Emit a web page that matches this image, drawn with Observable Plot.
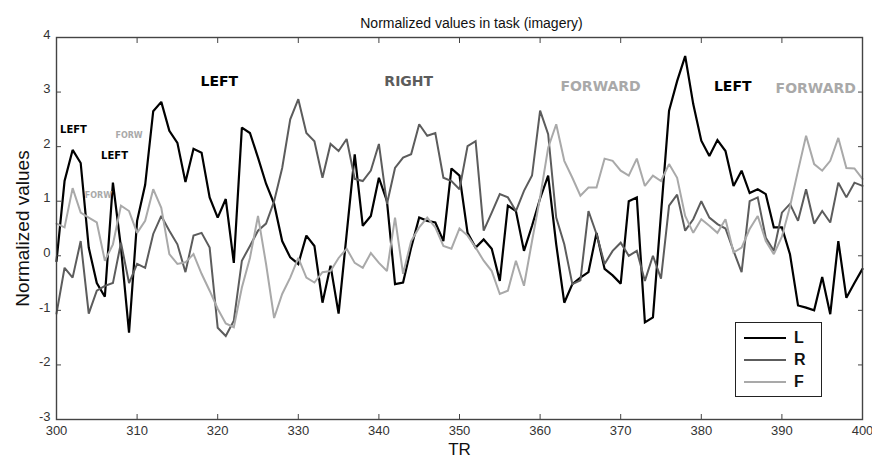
<!DOCTYPE html>
<html>
<head>
<meta charset="utf-8">
<script src="https://cdn.jsdelivr.net/npm/d3@7"></script>
<script src="https://cdn.jsdelivr.net/npm/@observablehq/plot@0.6"></script>
<style>
  html, body { margin: 0; padding: 0; background: #fff; }
  #wrap { position: relative; width: 872px; height: 459px; font-family: "Liberation Sans", Arial, sans-serif; }
  #legend { position: absolute; left: 735px; top: 322px; width: 87px; height: 75px; border: 1.3px solid #222; background: #fff; box-sizing: border-box; }
  .item { position: absolute; left: 8px; height: 20px; display: flex; align-items: center; }
  .item span { font: bold 16px "Liberation Sans", Arial, sans-serif; margin-left: 8px; color: #111; }
  .item i { display: inline-block; width: 42px; height: 0; border-top-style: solid; }
</style>
</head>
<body>
<div id="wrap"></div>
<script>
// ---- data ----
const trValues = d3.range(300, 401);
const seriesNames = ["L", "R", "F"];
const L = [-0.1, 1.37, 1.94, 1.7, 0.15, -0.5, -0.75, 1.34, 0.15, -1.41, 0.64, 1.3, 2.65, 2.82, 2.29, 2.07, 1.35, 1.96, 1.89, 1.07, 0.70, 1.04, -0.13, 2.35, 2.25, 1.8, 1.32, 0.95, 0.27, -0.03, -0.15, 0.37, 0.18, -0.86, -0.18, -1.06, 0.40, 1.86, 0.55, 0.73, 1.43, 1.0, -0.52, -0.49, 0.15, 0.70, 0.64, 0.61, 0.27, 1.6, 1.47, 0.42, 0.15, 0.3, 0.13, -0.46, 0.92, 0.82, 0.09, 0.55, 1.05, 1.47, 0.21, -0.86, -0.52, -0.40, -0.3, 0.42, -0.24, -0.36, -0.51, 1.0, 1.07, -1.22, -1.13, 0.77, 2.66, 3.2, 3.66, 2.78, 2.11, 1.83, 2.12, 1.92, 1.28, 1.56, 1.15, 1.22, 1.13, 0.52, 0.52, 0.03, -0.91, -0.95, -1.0, -0.39, -1.07, 0.27, -0.77, -0.5, -0.24];
const R = [-1.06, -0.22, -0.4, 0.27, -1.06, -0.64, -0.55, -0.5, 0.24, -0.5, -0.15, -0.22, 0.4, 0.73, 0.46, 0.21, -0.3, 0.37, 0.42, 0.15, -1.32, -1.47, -1.19, -0.09, 0.18, 0.46, 0.59, 1.0, 1.61, 2.5, 2.87, 2.25, 2.1, 1.43, 2.05, 1.92, 2.14, 1.41, 1.37, 1.56, 2.05, 0.95, 1.61, 1.8, 1.86, 2.41, 2.2, 2.25, 1.43, 1.37, 1.22, 2.01, 2.1, 0.46, 0.79, 1.13, 1.07, 0.82, 1.19, 1.47, 2.66, 2.23, 0.70, 0.21, -0.52, -0.45, 0.82, 0.40, -0.15, 0.09, 0.24, 0, 0.09, -0.46, 0, -0.42, 0.92, 1.12, 0.46, 0.67, 1.0, 0.7, 0.58, 0.5, 0.09, -0.3, 1.0, 1.07, 0.33, 0.09, 0.79, 0.95, 0.64, 1.22, 0.59, 0.82, 0.61, 1.34, 1.07, 1.34, 1.28];
const F = [0.59, 0.52, 1.24, 0.79, 0.7, 0.61, -0.09, 0.21, 0.92, 0.82, 0.42, 0.64, 1.22, 0.88, 0.03, -0.15, -0.12, 0.03, -0.33, -0.64, -0.97, -1.24, -1.31, -0.58, -0.04, 0.73, -0.15, -1.14, -0.7, -0.4, -0.04, -0.4, -0.49, -0.3, -0.28, -0.04, 0.13, -0.13, -0.22, 0.05, -0.13, -0.28, 0.70, -0.33, 0.27, 0.52, 0.70, 0.52, 0.18, 0.13, 0.5, 0.37, 0.15, -0.09, -0.28, -0.7, -0.64, -0.09, -0.55, 0.27, 1.07, 1.98, 2.41, 1.74, 1.43, 1.1, 1.25, 1.25, 1.78, 1.74, 1.56, 1.47, 1.78, 1.28, 1.47, 1.37, 1.68, 1.43, 0.73, 0.42, 0.67, 0.55, 0.42, 0.67, 0.06, 0.15, 0.49, 0.73, 0.27, 0.03, 0.35, 0.9, 1.56, 2.2, 1.68, 1.56, 1.74, 2.16, 1.61, 1.6, 1.41];
const xTicks = [300, 310, 320, 330, 340, 350, 360, 370, 380, 390, 400];
const yTicks = [-3, -2, -1, 0, 1, 2, 3, 4];
// annotation labels (text, series, TR, value)
const annText = ["LEFT", "RIGHT", "FORWARD", "LEFT", "FORWARD", "LEFT", "LEFT", "FORW", "FORW"];
const annSeries = ["L", "R", "F", "L", "F", "L", "L", "F", "F"];
const annTR = [320.2, 343.7, 367.5, 383.9, 394.2, 302.1, 307.2, 309.0, 305.2];
const annValue = [3.19, 3.19, 3.11, 3.11, 3.06, 2.31, 1.83, 2.21, 1.10];
const annKind = ["big", "big", "big", "big", "big", "small", "small", "tiny", "tiny"];

// ---- build ----
const colors = ["#000000", "#5c5c5c", "#a9a9a9"];
const widths = [2.2, 2.0, 2.0];
const seriesValues = {L, R, F};
const rows = seriesNames.flatMap(s => trValues.map((t, i) => ({tr: t, v: seriesValues[s][i], s})));
const ann = annText.map((t, i) => ({t, s: annSeries[i], x: annTR[i], y: annValue[i], k: annKind[i]}));
const fontSizes = {big: 14, small: 10, tiny: 8};
const colorOf = s => colors[seriesNames.indexOf(s)];

const tickStyle = {fontSize: 13, fontFamily: "Liberation Sans, Arial, sans-serif", fill: "#333"};

const plot = Plot.plot({
  width: 872,
  height: 459,
  marginLeft: 56,
  marginRight: 10,
  marginTop: 37,
  marginBottom: 40,
  style: {fontFamily: "Liberation Sans, Arial, sans-serif", color: "#333", background: "#fff"},
  x: {domain: [300, 400]},
  y: {domain: [-3, 4]},
  marks: [
    ...seriesNames.map((s, i) => Plot.line(rows.filter(d => d.s === s), {x: "tr", y: "v", stroke: colors[i], strokeWidth: widths[i], strokeLinejoin: "miter", strokeMiterlimit: 2})),
    ...["big", "small", "tiny"].map(k => Plot.text(ann.filter(d => d.k === k), {
      x: "x", y: "y", text: "t", fill: d => colorOf(d.s), fontSize: fontSizes[k],
      fontWeight: 900, fontFamily: "DejaVu Sans, Verdana, sans-serif"
    })),
    Plot.frame({stroke: "#444", strokeWidth: 1.4}),
    Plot.axisX(xTicks, {anchor: "bottom", tickSize: -5, tickPadding: 11, stroke: "#444", tickFormat: d => String(d), ...tickStyle, label: null}),
    Plot.axisX(xTicks, {anchor: "top", tickSize: -5, tickFormat: () => "", stroke: "#444", label: null}),
    Plot.axisY(yTicks, {anchor: "left", tickSize: -5, tickFormat: () => "", stroke: "#444", label: null}),
    Plot.axisY(yTicks, {anchor: "left", tickSize: 0, tickPadding: 6, dy: -3, tickFormat: d => String(d), ...tickStyle, label: null}),
    Plot.axisY(yTicks, {anchor: "right", tickSize: -5, tickFormat: () => "", stroke: "#444", label: null}),
    Plot.text(["Normalized values in task (imagery)"], {frameAnchor: "top", dx: 12, dy: -19, fontSize: 14, fill: "#111"}),
    Plot.text(["TR"], {frameAnchor: "bottom", dy: 35, fontSize: 17, fill: "#111"}),
    Plot.text(["Normalized values"], {frameAnchor: "left", textAnchor: "middle", dx: -34, rotate: -90, fontSize: 19, fill: "#111"})
  ]
});

const wrap = document.getElementById("wrap");
wrap.appendChild(plot);
const legend = document.createElement("div");
legend.id = "legend";
seriesNames.forEach((s, i) => {
  const it = document.createElement("div");
  it.className = "item";
  it.style.top = (5 + i * 22) + "px";
  const line = document.createElement("i");
  line.style.borderTopColor = colors[i];
  line.style.borderTopWidth = widths[i] + 0.4 + "px";
  const lab = document.createElement("span");
  lab.textContent = s;
  it.appendChild(line);
  it.appendChild(lab);
  legend.appendChild(it);
});
wrap.appendChild(legend);
</script>
</body>
</html>
